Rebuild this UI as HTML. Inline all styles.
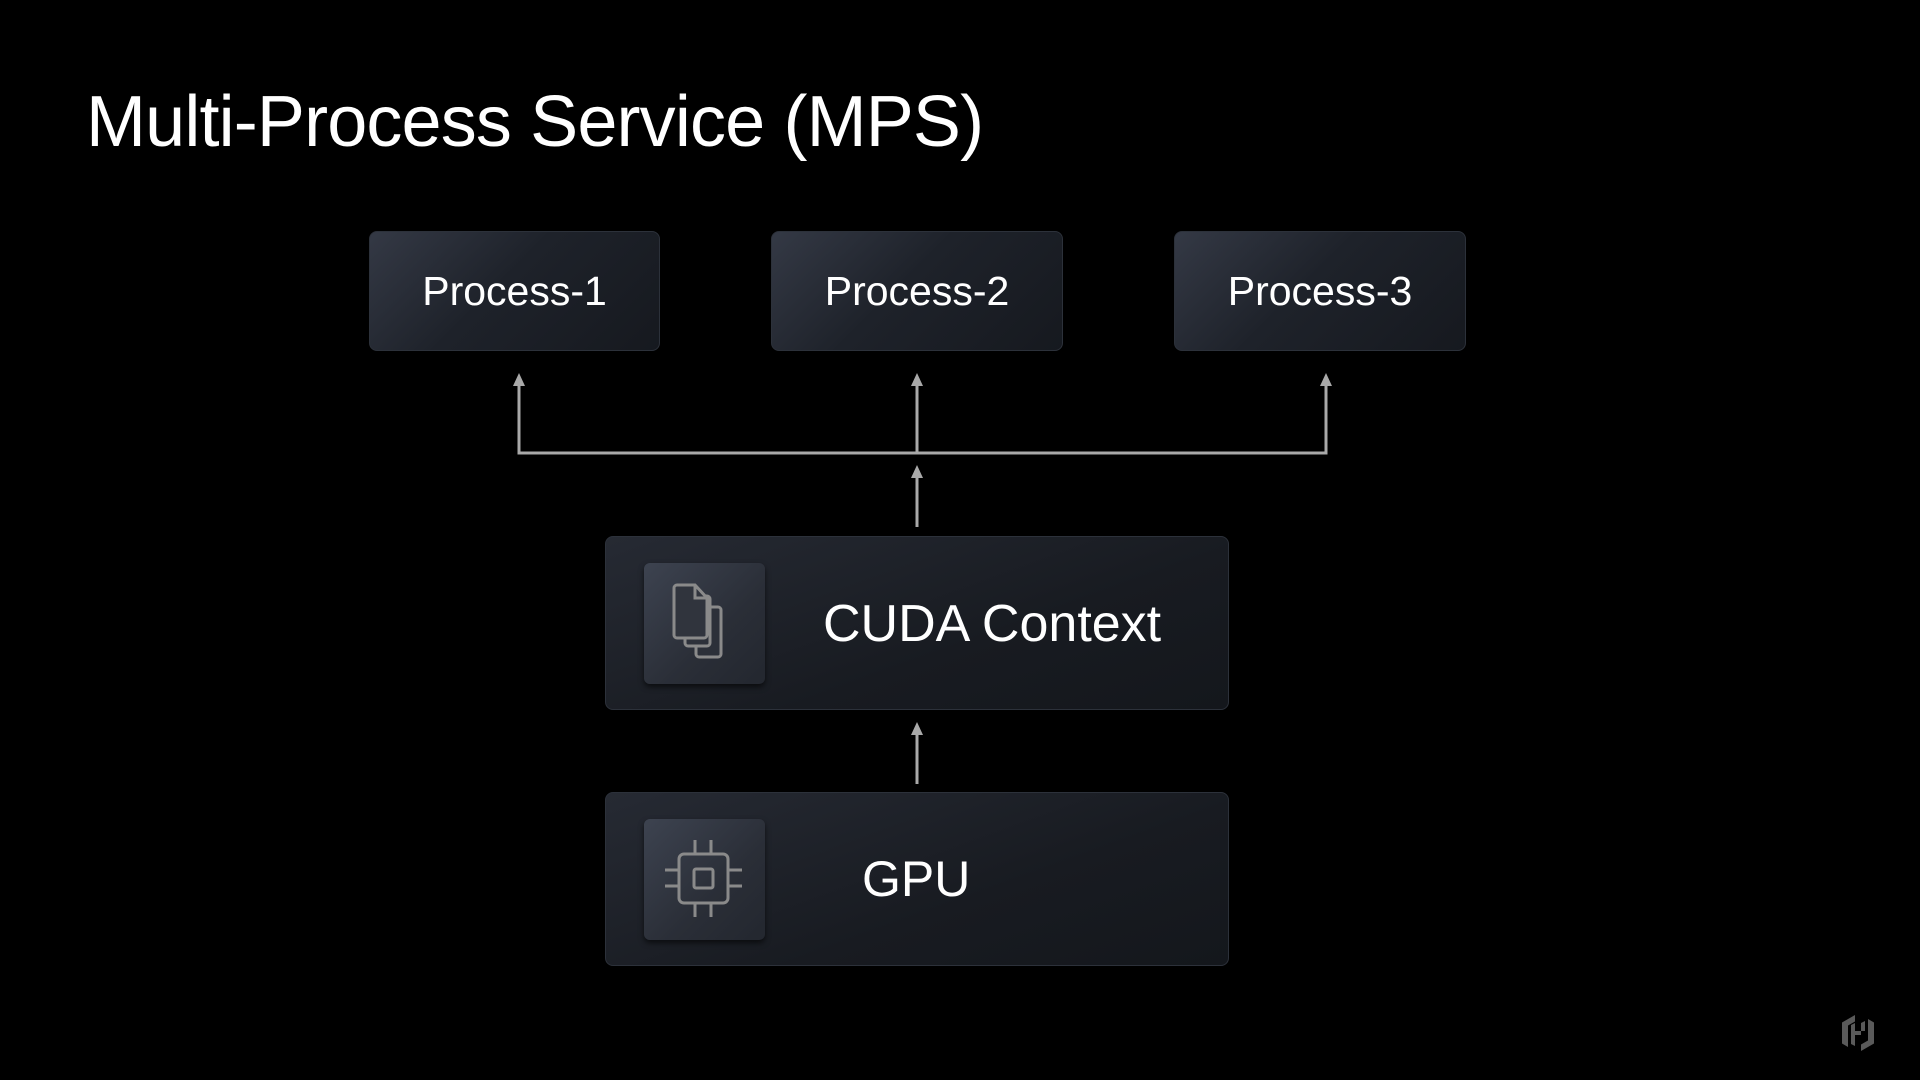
<!DOCTYPE html>
<html><head><meta charset="utf-8"><style>
html,body{margin:0;padding:0;background:#000;}
body{width:1920px;height:1080px;position:relative;overflow:hidden;font-family:"Liberation Sans",sans-serif;color:#fff;}
.t{position:absolute;left:86px;top:81px;font-size:72px;letter-spacing:-0.85px;white-space:nowrap;}
.box{position:absolute;border-radius:8px;background:linear-gradient(135deg,#343945 0%,#1e222a 45%,#16191f 100%);border:1px solid #2c313a;box-sizing:border-box;}
.p{display:flex;align-items:center;justify-content:center;font-size:41px;}
.big{background:linear-gradient(160deg,#262a33 0%,#181b21 60%,#14171c 100%);}
.ic{position:absolute;border-radius:6px;background:linear-gradient(135deg,#3d4350 0%,#2a2e37 60%,#23272f 100%);box-shadow:0 3px 6px rgba(0,0,0,.6);}
.lbl{position:absolute;font-size:52px;white-space:nowrap;}
</style></head><body>
<div class="t">Multi-Process Service (MPS)</div>
<div class="box p" style="left:369px;top:231px;width:291px;height:120px">Process-1</div>
<div class="box p" style="left:771px;top:231px;width:292px;height:120px">Process-2</div>
<div class="box p" style="left:1174px;top:231px;width:292px;height:120px">Process-3</div>
<svg style="position:absolute;left:0;top:0" width="1920" height="1080">
<g stroke="#a9a9a9" stroke-width="3" fill="none">
<polyline points="519,380 519,453 1326,453 1326,380"/>
<line x1="917" y1="380" x2="917" y2="453"/>
<line x1="917" y1="473" x2="917" y2="527"/>
<line x1="917" y1="730" x2="917" y2="784"/>
</g>
<g fill="#a9a9a9">
<polygon points="519,373 513,386 525,386"/>
<polygon points="917,373 911,386 923,386"/>
<polygon points="1326,373 1320,386 1332,386"/>
<polygon points="917,465 911,478 923,478"/>
<polygon points="917,722 911,735 923,735"/>
</g>
</svg>
<div class="box big" style="left:605px;top:536px;width:624px;height:174px"></div>
<div class="ic" style="left:644px;top:563px;width:121px;height:121px">
<svg width="121" height="121" viewBox="0 0 121 121" fill="none" stroke="#8a8a8a" stroke-width="3">
<path d="M52 44 h22 a3 3 0 0 1 3 3 v44 a3 3 0 0 1-3 3 H55 a3 3 0 0 1-3-3z" fill="#2c3039"/>
<path d="M41 33 h22 a3 3 0 0 1 3 3 v44 a3 3 0 0 1-3 3 H44 a3 3 0 0 1-3-3z" fill="#2d313a"/>
<path d="M33 22 h18 l12 13 v37 a3 3 0 0 1-3 3 H33 a3 3 0 0 1-3-3 V25 a3 3 0 0 1 3-3z" fill="#30343d"/>
<path d="M51 22 v13 h12"/>
</svg></div>
<div class="lbl" style="left:823px;top:594px">CUDA Context</div>
<div class="box big" style="left:605px;top:792px;width:624px;height:174px"></div>
<div class="ic" style="left:644px;top:819px;width:121px;height:121px">
<svg width="121" height="121" viewBox="0 0 121 121" fill="none" stroke="#8a8a8a" stroke-width="3">
<rect x="35" y="35" width="49" height="49" rx="5"/>
<rect x="50" y="50" width="19" height="19" rx="2"/>
<path d="M51 21 v14 M67 21 v14 M51 84 v14 M67 84 v14 M21 51 h14 M21 67 h14 M84 51 h14 M84 67 h14"/>
</svg></div>
<div class="lbl" style="left:862px;top:850px;font-size:50px">GPU</div>
<svg style="position:absolute;left:1840px;top:1013px" width="36" height="40" viewBox="0 0 36 40" fill="#5a5a5a">
<path d="M15 2 L2 9.5 V30.5 L8 34 V12.5 L15 8.5z"/>
<path d="M21 38 L34 30.5 V9.5 L28 6 V27.5 L21 31.5z"/>
<path d="M11 12 L15 10 V18 h6 V22 h-6 V33 L11 31z"/>
<path d="M25 8 L21 10 V18 h4z"/>
</svg>
</body></html>
